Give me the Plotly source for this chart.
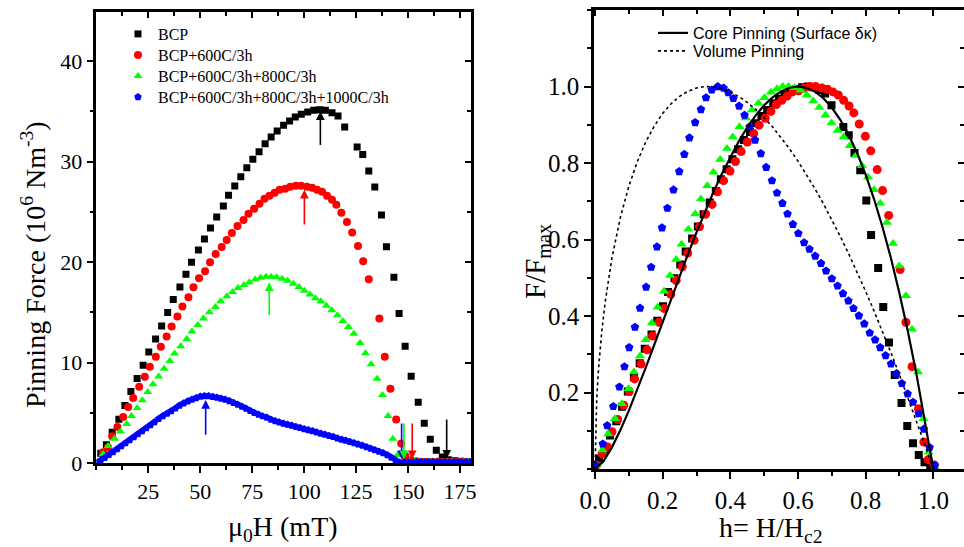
import plotly.graph_objects as go

# ---------------- Left panel data (mu0H in mT, pinning force in 1e6 N/m^3) ----------------
bcp_H = [2.1, 4.8, 7.6, 10.8, 13.7, 16.6, 19.6, 22.5, 25.2, 28.5, 31.4, 34.3, 37.0, 40.2, 43.1, 45.8,
         49.1, 52.0, 54.9, 57.9, 61.1, 63.6, 66.6, 69.5, 72.4, 75.3, 78.3, 81.2, 84.1, 87.0, 90.1, 93.0,
         95.7, 98.6, 101.7, 104.6, 107.5, 110.2, 113.4, 116.3, 119.5, 125.5, 128.2, 131.1, 134.0, 137.2,
         139.6, 143.2, 145.7, 148.6, 151.5, 154.9, 157.8, 160.7, 163.6, 166.5, 169.4, 172.3, 175.2, 178.1]
bcp_F = [1.0, 1.84, 3.08, 4.38, 5.74, 7.13, 8.43, 9.75, 11.07, 12.37, 13.64, 14.99, 16.29, 17.54, 18.8, 20.0,
         21.2, 22.3, 23.4, 24.5, 25.57, 26.64, 27.56, 28.49, 29.38, 30.22, 30.97, 31.77, 32.44, 33.03, 33.6, 34.03,
         34.43, 34.7, 34.93, 35.1, 35.16, 35.1, 34.86, 34.53, 33.43, 31.44, 30.7, 29.05, 27.46, 24.68,
         21.52, 18.5, 14.9, 11.64, 8.66, 6.07, 3.98, 2.39, 1.29, 0.63, 0.35, 0.25, 0.2, 0.15]

r600_H = [3.2, 5.6, 7.6, 10.1, 12.9, 15.3, 17.7, 20.6, 23.3, 25.7, 28.6, 31.0, 33.8, 36.2, 39.0, 41.4,
          44.3, 46.7, 49.4, 52.3, 54.7, 57.4, 60.3, 62.7, 65.2, 67.9, 70.8, 73.2, 75.9, 78.5, 80.9, 83.3,
          85.8, 88.2, 90.9, 93.3, 96.0, 98.5, 101.3, 103.8, 106.2, 108.6, 111.0, 113.4, 115.5, 117.9,
          120.6, 123.1, 125.9, 128.4, 131.1, 136.2, 138.8, 141.5, 144.3, 146.7, 148.8, 151.5, 154.0,
          156.5, 159.0, 161.5, 164.0, 166.5, 169.0, 171.5, 174.0, 176.5, 179.0]
r600_F = [1.1, 1.6, 2.7, 3.6, 4.6, 5.6, 6.5, 7.6, 8.6, 9.6, 10.6, 11.6, 12.6, 13.6, 14.6, 15.6,
          16.5, 17.5, 18.4, 19.1, 20.0, 20.8, 21.5, 22.2, 22.9, 23.6, 24.2, 24.8, 25.3, 25.8, 26.3, 26.6,
          26.9, 27.2, 27.3, 27.5, 27.6, 27.6, 27.5, 27.4, 27.2, 27.0, 26.6, 26.2, 25.7, 24.9,
          24.0, 22.95, 21.6, 20.1, 18.3, 14.4, 10.6, 7.4, 4.35, 1.96, 0.7, 0.3, 0.2,
          0.15, 0.15, 0.15, 0.15, 0.15, 0.15, 0.15, 0.15, 0.15, 0.15]

r800_H = [0.7, 3.2, 5.7, 8.7, 11.6, 14.6, 16.9, 19.6, 22.1, 24.7, 27.2, 30.0, 32.6, 35.3, 37.6, 40.6,
          43.5, 46.0, 48.8, 51.5, 54.4, 57.3, 59.8, 62.8, 65.6, 68.2, 71.0, 73.6, 76.4, 79.1, 81.6, 84.1,
          86.7, 89.4, 92.0, 94.8, 97.5, 100.1, 102.8, 105.4, 108.0, 110.7, 113.3, 116.0, 118.6, 121.3,
          123.9, 126.9, 129.5, 132.2, 135.1, 137.7, 140.4, 142.7, 144.9, 147.9, 150.5, 153.1, 155.7,
          158.3, 160.9, 163.5, 166.1, 168.7, 171.3, 173.9, 176.5, 179.1]
r800_F = [0.19, 0.93, 1.71, 2.45, 3.17, 3.90, 4.71, 5.49, 6.27, 7.09, 7.85, 8.63, 9.39, 10.17, 10.91, 11.63,
          12.37, 13.10, 13.75, 14.39, 15.01, 15.54, 16.10, 16.60, 17.03, 17.42, 17.73, 18.01, 18.27, 18.44, 18.55, 18.55,
          18.49, 18.36, 18.14, 17.85, 17.53, 17.16, 16.79, 16.42, 16.10, 15.67, 15.21, 14.71, 14.15, 13.54,
          12.89, 11.96, 10.94, 9.85, 8.40, 6.79, 4.71, 2.45, 0.82, 0.07, 0.15, 0.15, 0.15,
          0.15, 0.15, 0.15, 0.15, 0.15, 0.15, 0.15, 0.15, 0.15]

r1000_H = [0, 2, 4, 6, 8, 10, 12, 14, 16, 18, 20, 22, 24, 26, 28, 30, 32, 34, 36, 38, 40, 42, 44, 46, 48,
           50, 52, 54, 56, 58, 60, 62, 64, 66, 68, 70, 72, 74, 76, 78, 80, 82, 84, 86, 88, 90, 92, 94, 96,
           98, 100, 102, 104, 106, 108, 110, 112, 114, 116, 118, 120, 122, 124, 126, 128, 130, 132, 134,
           136, 138, 140, 142, 144, 146, 148, 150, 152, 154, 156, 158, 160, 162, 164, 166, 168, 170, 172,
           174, 176, 178, 180]
r1000_F = [0.02, 0.27, 0.54, 0.84, 1.13, 1.42, 1.71, 2.02, 2.32, 2.62, 2.91, 3.20, 3.50, 3.81, 4.11, 4.42,
           4.70, 4.95, 5.20, 5.46, 5.74, 5.97, 6.17, 6.35, 6.50, 6.64, 6.69, 6.68, 6.62, 6.55, 6.45, 6.35,
           6.19, 6.02, 5.84, 5.64, 5.44, 5.23, 5.03, 4.86, 4.69, 4.56, 4.36, 4.21, 4.08, 3.95, 3.85, 3.75,
           3.64, 3.53, 3.42, 3.31, 3.20, 3.09, 2.97, 2.86, 2.75, 2.63, 2.50, 2.37, 2.26, 2.14, 2.02, 1.89,
           1.76, 1.61, 1.47, 1.33, 1.18, 1.03, 0.83, 0.57, 0.30, 0.08, 0.12, 0.12, 0.12, 0.12, 0.12, 0.12,
           0.12, 0.12, 0.12, 0.12, 0.12, 0.12, 0.12, 0.12, 0.12, 0.12, 0.12]

# arrows: (field, tail F, head F, colour)
peak_arrows = [(107.8, 31.5, 35.0, "#000000"), (100.1, 23.6, 27.2, "#ff0000"),
               (83.2, 14.6, 18.0, "#00ff00"), (52.6, 2.7, 6.3, "#0000ff")]
hc2_arrows = [(146.9, 4.1, 0.4, "#0000ff"), (148.0, 4.1, 0.4, "#00ff00"),
              (152.0, 4.1, 0.4, "#ff0000"), (168.6, 4.5, 0.45, "#000000")]

# ---------------- Right panel data (h = H/Hc2, F/Fmax) ----------------
n_bcp_h = [0.0, 0.012, 0.028, 0.044, 0.063, 0.080, 0.097, 0.115, 0.132, 0.147, 0.167, 0.184, 0.201, 0.216,
           0.235, 0.252, 0.268, 0.287, 0.304, 0.321, 0.339, 0.357, 0.372, 0.389, 0.406, 0.423, 0.440, 0.458,
           0.475, 0.492, 0.509, 0.527, 0.544, 0.560, 0.577, 0.595, 0.612, 0.629, 0.644, 0.663, 0.680, 0.699,
           0.734, 0.750, 0.767, 0.784, 0.802, 0.816, 0.837, 0.852, 0.869, 0.886, 0.906, 0.923, 0.940, 0.957,
           0.974, 0.991]
n_bcp_f = [0.004, 0.028, 0.052, 0.088, 0.125, 0.163, 0.203, 0.240, 0.277, 0.315, 0.352, 0.388, 0.426, 0.463,
           0.499, 0.535, 0.569, 0.603, 0.634, 0.666, 0.697, 0.727, 0.758, 0.784, 0.810, 0.836, 0.860, 0.881,
           0.904, 0.923, 0.939, 0.956, 0.968, 0.979, 0.987, 0.993, 0.998, 1.0, 0.998, 0.991, 0.982, 0.951,
           0.894, 0.873, 0.826, 0.781, 0.702, 0.612, 0.526, 0.424, 0.331, 0.246, 0.173, 0.113, 0.068, 0.037,
           0.018, 0.010]

n_r600_h = [0.003, 0.021, 0.037, 0.050, 0.067, 0.085, 0.101, 0.117, 0.136, 0.154, 0.170, 0.189, 0.205, 0.224,
            0.240, 0.258, 0.274, 0.293, 0.309, 0.327, 0.346, 0.362, 0.380, 0.399, 0.415, 0.432, 0.450, 0.469,
            0.485, 0.503, 0.520, 0.536, 0.552, 0.568, 0.584, 0.602, 0.618, 0.636, 0.652, 0.671, 0.687, 0.703,
            0.719, 0.735, 0.751, 0.765, 0.781, 0.799, 0.815, 0.834, 0.850, 0.868, 0.902, 0.919, 0.937, 0.956,
            0.972, 0.985, 1.003]
n_r600_f = [0.010, 0.040, 0.058, 0.098, 0.130, 0.167, 0.203, 0.236, 0.275, 0.312, 0.348, 0.384, 0.420, 0.457,
            0.493, 0.529, 0.565, 0.598, 0.634, 0.667, 0.692, 0.725, 0.754, 0.779, 0.804, 0.830, 0.855, 0.877,
            0.899, 0.917, 0.935, 0.953, 0.964, 0.975, 0.986, 0.989, 0.996, 1.0, 1.0, 0.996, 0.993, 0.986,
            0.978, 0.964, 0.949, 0.931, 0.902, 0.870, 0.832, 0.783, 0.728, 0.663, 0.522, 0.384, 0.268, 0.158,
            0.071, 0.025, 0.011]

n_r800_h = [0.005, 0.022, 0.039, 0.059, 0.079, 0.099, 0.115, 0.133, 0.150, 0.168, 0.185, 0.204, 0.222, 0.240,
            0.256, 0.276, 0.296, 0.313, 0.332, 0.350, 0.370, 0.390, 0.407, 0.427, 0.446, 0.464, 0.483, 0.501,
            0.520, 0.538, 0.555, 0.572, 0.590, 0.608, 0.626, 0.645, 0.663, 0.681, 0.699, 0.717, 0.735, 0.753,
            0.771, 0.789, 0.807, 0.825, 0.843, 0.863, 0.881, 0.899, 0.919, 0.937, 0.955, 0.971, 0.986, 1.006]
n_r800_f = [0.01, 0.05, 0.092, 0.132, 0.171, 0.210, 0.254, 0.296, 0.338, 0.382, 0.423, 0.465, 0.506, 0.548,
            0.588, 0.627, 0.667, 0.706, 0.741, 0.776, 0.809, 0.838, 0.868, 0.895, 0.918, 0.939, 0.956, 0.971,
            0.985, 0.994, 1.0, 1.0, 0.997, 0.990, 0.978, 0.962, 0.945, 0.925, 0.905, 0.885, 0.868, 0.845,
            0.820, 0.793, 0.763, 0.730, 0.695, 0.645, 0.590, 0.531, 0.453, 0.366, 0.254, 0.132, 0.044, 0.004]

n_r1000_h = [0.0, 0.023, 0.036, 0.054, 0.072, 0.087, 0.101, 0.118, 0.133, 0.151, 0.166, 0.183, 0.198, 0.214,
             0.232, 0.249, 0.264, 0.279, 0.296, 0.313, 0.328, 0.345, 0.363, 0.380, 0.394, 0.409, 0.426, 0.442,
             0.457, 0.473, 0.490, 0.506, 0.523, 0.538, 0.554, 0.569, 0.585, 0.601, 0.618, 0.634, 0.651, 0.668,
             0.683, 0.700, 0.717, 0.733, 0.749, 0.764, 0.780, 0.796, 0.812, 0.828, 0.843, 0.859, 0.875, 0.891,
             0.907, 0.924, 0.940, 0.957, 0.972, 0.989, 1.004]
n_r1000_f = [0.011, 0.066, 0.114, 0.164, 0.215, 0.268, 0.318, 0.371, 0.421, 0.476, 0.528, 0.581, 0.631, 0.682,
             0.730, 0.778, 0.823, 0.866, 0.906, 0.940, 0.971, 0.991, 1.0, 0.996, 0.984, 0.969, 0.949, 0.925,
             0.895, 0.860, 0.825, 0.789, 0.754, 0.722, 0.695, 0.667, 0.640, 0.616, 0.592, 0.575, 0.557, 0.538,
             0.518, 0.498, 0.479, 0.459, 0.440, 0.420, 0.401, 0.380, 0.356, 0.338, 0.318, 0.297, 0.275, 0.250,
             0.224, 0.197, 0.175, 0.145, 0.105, 0.057, 0.010]

# model curves (sampled)
core_h = [0, 0.025, 0.05, 0.075, 0.1, 0.125, 0.15, 0.175, 0.2, 0.225, 0.25, 0.275, 0.3, 0.325, 0.35, 0.375,
          0.4, 0.425, 0.45, 0.475, 0.5, 0.525, 0.55, 0.575, 0.6, 0.625, 0.65, 0.675, 0.7, 0.725, 0.75, 0.775,
          0.8, 0.825, 0.85, 0.875, 0.9, 0.925, 0.95, 0.975, 1.0]
core_f = [0, 0.0207, 0.0571, 0.1022, 0.1531, 0.2080, 0.2656, 0.3249, 0.3849, 0.4449, 0.5043, 0.5624, 0.6187,
          0.6727, 0.7240, 0.7720, 0.8165, 0.8570, 0.8931, 0.9245, 0.9509, 0.9720, 0.9874, 0.9968, 1.0, 0.9967,
          0.9867, 0.9695, 0.9451, 0.9132, 0.8735, 0.8258, 0.7698, 0.7054, 0.6323, 0.5504, 0.4593, 0.3589,
          0.2490, 0.1295, 0]
vol_h = [0, 0.005, 0.01, 0.02, 0.03, 0.04, 0.05, 0.075, 0.1, 0.125, 0.15, 0.175, 0.2, 0.225, 0.25, 0.275, 0.3,
         0.325, 0.35, 0.375, 0.4, 0.425, 0.45, 0.475, 0.5, 0.525, 0.55, 0.575, 0.6, 0.625, 0.65, 0.675, 0.7,
         0.725, 0.75, 0.775, 0.8, 0.825, 0.85, 0.875, 0.9, 0.925, 0.95, 0.975, 1.0]
vol_f = [0, 0.1828, 0.2572, 0.3601, 0.4365, 0.4988, 0.5519, 0.6582, 0.7394, 0.8037, 0.8553, 0.8966, 0.9295,
         0.9551, 0.9743, 0.9878, 0.9961, 0.9998, 0.9991, 0.9944, 0.9859, 0.9739, 0.9586, 0.9401, 0.9186,
         0.8942, 0.8671, 0.8373, 0.8050, 0.7702, 0.7331, 0.6937, 0.6521, 0.6083, 0.5625, 0.5146, 0.4648,
         0.4130, 0.3593, 0.3038, 0.2465, 0.1874, 0.1266, 0.0641, 0]

left_xticks = [25, 50, 75, 100, 125, 150, 175]
left_yticks = [0, 10, 20, 30, 40]
right_xticks = [0.0, 0.2, 0.4, 0.6, 0.8, 1.0]
right_xlabels = ["0.0", "0.2", "0.4", "0.6", "0.8", "1.0"]
right_yticks = [0.2, 0.4, 0.6, 0.8, 1.0]
right_ylabels = ["0.2", "0.4", "0.6", "0.8", "1.0"]

labels = ["BCP", "BCP+600C/3h", "BCP+600C/3h+800C/3h", "BCP+600C/3h+800C/3h+1000C/3h"]
colors = ["#000000", "#ff0000", "#00ff00", "#0000ff"]
symbols = ["square", "circle", "triangle-up", "pentagon"]
model_names = ["Core Pinning (Surface \u03b4\u03ba)", "Volume Pinning"]

SERIF = "Liberation Serif, Times New Roman, serif"
SANS = "Liberation Sans, Arial, sans-serif"
W, H = 964, 547

fig = go.Figure()

# one single-item legend per entry so the row spacing can match the original
left_legends = ["legend", "legend3", "legend4", "legend5"]
left_rows = [35, 56, 77, 98]          # row centres (px from top)
right_legends = ["legend2", "legend6"]
right_rows = [32, 50]

left_sets = [(bcp_H, bcp_F), (r600_H, r600_F), (r800_H, r800_F), (r1000_H, r1000_F)]
left_sizes = [7, 8, 8, 8]
for (xs, ys), lab, c, s, sz, lg in zip(left_sets, labels, colors, symbols, left_sizes, left_legends):
    fig.add_trace(go.Scatter(x=xs, y=ys, mode="markers", name=lab,
                             marker=dict(symbol=s, color=c, size=sz, line=dict(width=0)),
                             xaxis="x", yaxis="y", legend=lg))

right_sets = [(n_bcp_h, n_bcp_f), (n_r600_h, n_r600_f), (n_r800_h, n_r800_f), (n_r1000_h, n_r1000_f)]
right_sizes = [8, 9, 9, 9]
for (xs, ys), lab, c, s, sz in zip(right_sets, labels, colors, symbols, right_sizes):
    fig.add_trace(go.Scatter(x=xs, y=ys, mode="markers", name=lab, showlegend=False,
                             marker=dict(symbol=s, color=c, size=sz, line=dict(width=0)),
                             xaxis="x2", yaxis="y2"))

fig.add_trace(go.Scatter(x=core_h, y=core_f, mode="lines", name=model_names[0],
                         line=dict(color="black", width=2.2), xaxis="x2", yaxis="y2", legend="legend2"))
fig.add_trace(go.Scatter(x=vol_h, y=vol_f, mode="lines", name=model_names[1],
                         line=dict(color="black", width=1.6, dash="dot"), xaxis="x2", yaxis="y2",
                         legend="legend6"))

# dummy traces to activate the inside-tick overlay axes
for xa, ya in [("x3", "y"), ("x", "y3"), ("x4", "y2"), ("x2", "y4")]:
    fig.add_trace(go.Scatter(x=[None], y=[None], xaxis=xa, yaxis=ya, showlegend=False,
                             hoverinfo="skip"))

for (x, y0, y1, c) in peak_arrows + hc2_arrows:
    fig.add_annotation(x=x, y=y1, ax=x, ay=y0, xref="x", yref="y", axref="x", ayref="y",
                       text="", showarrow=True, arrowhead=2, arrowsize=1.1, arrowwidth=1.6,
                       arrowcolor=c, standoff=0, startstandoff=0)

Lx = [96.4 / W, 471 / W]
Ly = [(H - 463.3) / H, (H - 11.7) / H]
Rx = [594 / W, 1.0]
Ry = [(H - 469.2) / H, (H - 10) / H]
LXR = [0, 180.3]
LYR = [0, 44.9]
RXR = [-0.003, 1.0907]
RYR = [0, 1.2]

tickfont_l = dict(family=SERIF, size=22, color="black")
tickfont_r = dict(family=SERIF, size=25, color="black")
axcommon = dict(showline=True, linecolor="black", linewidth=2.5, showgrid=False, zeroline=False,
                ticks="outside", ticklen=7, tickwidth=2, tickcolor="black", automargin=False)
overlay = dict(showline=False, showgrid=False, zeroline=False, ticks="inside", ticklen=6, tickwidth=2,
               tickcolor="black", showticklabels=False, automargin=False)


def minor(kind, step):
    return dict(ticks=kind, ticklen=4, tickwidth=2, tickcolor="black", dtick=step, tick0=0)


def legend_box(x_px, row_px, font):
    return dict(x=x_px / W, y=1 - (row_px - 18) / H, xanchor="left", yanchor="top",
                bgcolor="rgba(0,0,0,0)", borderwidth=0, font=font)


lfont = dict(family=SERIF, size=16, color="black")
rfont = dict(family=SANS, size=16, color="black")
legend_layout = {}
for lg, row in zip(left_legends, left_rows):
    legend_layout[lg] = legend_box(118, row, lfont)
for lg, row in zip(right_legends, right_rows):
    legend_layout[lg] = legend_box(653, row + 2, rfont)

fig.update_layout(
    template="none",
    width=W, height=H, margin=dict(l=0, r=0, t=0, b=0, pad=0), autosize=False,
    font=dict(family=SERIF, color="black"),
    paper_bgcolor="white", plot_bgcolor="white", showlegend=True,
    xaxis=dict(domain=Lx, range=LXR, anchor="y", tickvals=left_xticks, tickfont=tickfont_l,
               minor=minor("outside", 12.5), mirror=True, **axcommon),
    yaxis=dict(domain=Ly, range=LYR, anchor="x", tickvals=left_yticks, tickfont=tickfont_l,
               minor=minor("outside", 5), mirror=True, **axcommon),
    xaxis3=dict(overlaying="x", anchor="y", side="top", range=LXR, tickvals=left_xticks,
                minor=minor("inside", 12.5), **overlay),
    yaxis3=dict(overlaying="y", anchor="x", side="right", range=LYR, tickvals=left_yticks,
                minor=minor("inside", 5), **overlay),
    xaxis2=dict(domain=Rx, range=RXR, anchor="y2", tickvals=right_xticks, ticktext=right_xlabels,
                tickfont=tickfont_r, minor=minor("outside", 0.1), mirror=True, **axcommon),
    yaxis2=dict(domain=Ry, range=RYR, anchor="x2", tickvals=right_yticks, ticktext=right_ylabels,
                tickfont=tickfont_r, minor=minor("outside", 0.1), mirror=True, **axcommon),
    xaxis4=dict(overlaying="x2", anchor="y2", side="top", range=RXR, tickvals=right_xticks,
                minor=minor("inside", 0.1), **overlay),
    yaxis4=dict(overlaying="y2", anchor="x2", side="right", range=RYR, tickvals=right_yticks,
                minor=minor("inside", 0.1), **overlay),
    **legend_layout,
)

title_font = dict(family=SERIF, size=28, color="black")
fig.add_annotation(text="Pinning Force (10<sup>6</sup> Nm<sup>-3</sup>)", x=33 / W, y=1 - 265 / H,
                   xref="paper", yref="paper", showarrow=False, textangle=-90, font=title_font,
                   xanchor="center", yanchor="middle")
fig.add_annotation(text="\u03bc<sub>0</sub>H (mT)", x=283 / W, y=1 - 528 / H, xref="paper", yref="paper",
                   showarrow=False, font=title_font, xanchor="center", yanchor="middle")
fig.add_annotation(text="F/F<sub>max</sub>", x=537 / W, y=1 - 262 / H, xref="paper", yref="paper",
                   showarrow=False, textangle=-90, font=dict(family=SERIF, size=29, color="black"),
                   xanchor="center", yanchor="middle")
fig.add_annotation(text="h= H/H<sub>c2</sub>", x=771 / W, y=1 - 529 / H, xref="paper", yref="paper",
                   showarrow=False, font=title_font, xanchor="center", yanchor="middle")

fig.write_html("out.html", config={"displayModeBar": False},
               post_script="document.body.style.margin='0px';")
